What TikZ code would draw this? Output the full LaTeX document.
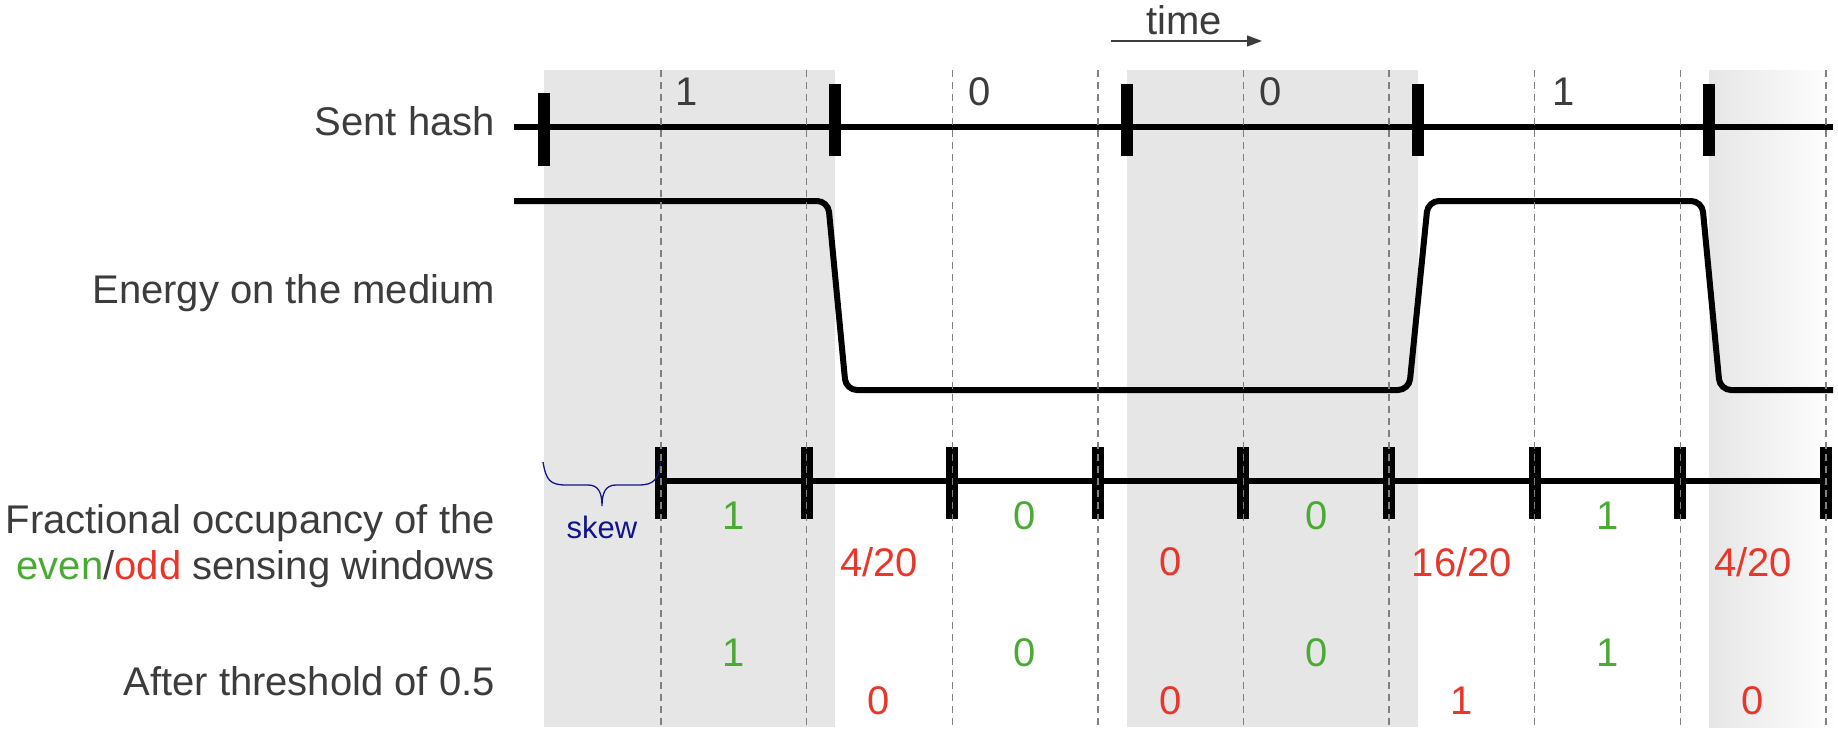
\documentclass[tikz,border=0pt]{standalone}
\usepackage{fontspec}
\setmainfont{Liberation Sans}
\usetikzlibrary{arrows.meta}
\definecolor{txt}{HTML}{3C3C3C}
\definecolor{shadegray}{HTML}{E6E6E6}
\definecolor{evengreen}{HTML}{4BAA34}
\definecolor{oddred}{HTML}{E8372A}
\definecolor{skewblue}{HTML}{14148A}
\definecolor{dashgray}{HTML}{808080}
\begin{document}
\begin{tikzpicture}[x=1pt,y=-1pt,
  lbl/.style={font=\fontsize{40}{46}\selectfont, text=txt, inner sep=0pt, anchor=base east},
  val/.style={font=\fontsize{40}{46}\selectfont, inner sep=0pt, anchor=center},
  evenval/.style={val, text=evengreen},
  oddval/.style={val, text=oddred},
  bitval/.style={val, text=txt},
  sig/.style={line width=6pt, black},
  tickmark/.style={line width=12pt, black},
  winline/.style={dashgray, line width=1.4pt, dash pattern=on 7pt off 5pt}
]
\useasboundingbox (0,0) rectangle (1838,731);
% shaded bit periods
\fill[shadegray] (544,70) rectangle (835,727);
\fill[shadegray] (1127,70) rectangle (1418,727);
\shade[left color=shadegray, right color=white] (1709,70) rectangle (1838,727);

% time arrow
\node[bitval] (time) at (1184,20) {time};
\coordinate (ta) at (1111,41);
\coordinate (tb) at (1262,41);
\draw[txt, line width=1.3pt, -{Triangle[length=15pt,width=11pt]}] (ta) -- (tb);

% sent hash
\draw[sig] (514,127) -- (1833,127);
\draw[tickmark] (544,93) -- (544,166);
\foreach \x in {835,1127,1418,1709} \draw[tickmark] (\x,84) -- (\x,156);
\node[bitval] (b1) at (687,92) {1};
\node[bitval] (b2) at (980,92) {0};
\node[bitval] (b3) at (1271,92) {0};
\node[bitval] (b4) at (1564,92) {1};

% energy
\draw[sig, rounded corners=11pt] (514,201) -- (828,201) -- (846,390) -- (1409,390) -- (1428,201)
  -- (1702,201) -- (1720,390) -- (1833,390);

% sensing windows
\draw[sig] (661,481) -- (1826,481);
\foreach \x in {661,806.6,952.2,1097.8,1243.4,1389,1534.6,1680.2,1825.8}
  \draw[tickmark] (\x,447) -- (\x,519);

% skew brace
\draw[skewblue, line width=1.3pt] (543,462) .. controls (546,480) and (550,485) .. (566,485)
  -- (588,485) .. controls (598,485) and (602,492) .. (602,506)
  .. controls (602,492) and (606,485) .. (616,485) -- (638,485)
  .. controls (654,485) and (658,480) .. (661,462);
\node[font=\fontsize{31}{36}\selectfont, text=skewblue, inner sep=0pt] (skew) at (602,527) {skew};

% values
\node[evenval] (e1) at (734,516) {1};
\node[evenval] (e2) at (1025,516) {0};
\node[evenval] (e3) at (1317,516) {0};
\node[evenval] (e4) at (1608,516) {1};
\node[oddval] (o1) at (879,562) {4/20};
\node[oddval] (o2) at (1171,562) {0};
\node[oddval] (o3) at (1462,562) {16/20};
\node[oddval] (o4) at (1753,562) {4/20};
\node[evenval] (te1) at (734,653) {1};
\node[evenval] (te2) at (1025,653) {0};
\node[evenval] (te3) at (1317,653) {0};
\node[evenval] (te4) at (1608,653) {1};
\node[oddval] (to1) at (879,701) {0};
\node[oddval] (to2) at (1171,701) {0};
\node[oddval] (to3) at (1462,701) {1};
\node[oddval] (to4) at (1753,701) {0};

% dashed window boundaries
\foreach \x in {661,806.6,952.2,1097.8,1243.4,1389,1534.6,1680.2,1825.8}
  \draw[winline] (\x,70) -- (\x,727);

% labels
\node[lbl] (sent) at (495,135) {Sent hash};
\node[lbl] (energy) at (495,303) {Energy on the medium};
\node[lbl] (frac1) at (495,533) {Fractional occupancy of the};
\node[lbl] (frac2) at (495,579) {\textcolor{evengreen}{even}/\textcolor{oddred}{odd} sensing windows};
\node[lbl] (after) at (495,695) {After threshold of 0.5};
\end{tikzpicture}
\end{document}
